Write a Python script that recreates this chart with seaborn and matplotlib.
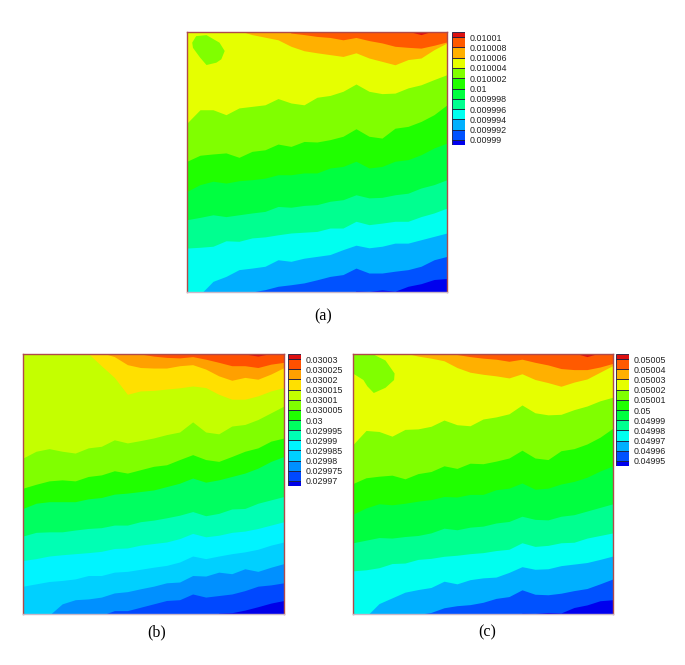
import matplotlib
matplotlib.use("Agg")
import matplotlib.pyplot as plt
import seaborn as sns

sns.set_style("white")
plt.rcParams["font.family"] = ["Liberation Sans", "DejaVu Sans"]

W, H = 685, 665

# Horizontal position in percent of panel width
xs = [0, 5, 10, 15, 20, 25, 30, 35, 40, 45, 50, 55, 60, 65, 70, 75, 80, 85, 90, 95, 100]

# Panel (a): contour band edges, height in percent of the panel, low to high
a_e1 = [-3, -3, -3, -3, -3, -3, -3, -3, -3, -3, -3, -3, -3, 0.4, 0.2, 0.8, 0.3, 2.2, 3.2, 4.8, 5.2]
a_e2 = [-3, -3, -3, -3, -2, 0, 0.9, 2.2, 2.8, 3.5, 4.7, 6.0, 6.7, 9.2, 7.3, 7.3, 8.0, 8.6, 9.9, 12.4, 13.7]
a_e3 = [-3, -1, 4.1, 6, 8.6, 9.2, 9.9, 12.4, 11.8, 13, 13.7, 14.4, 16.3, 18, 17, 17.6, 18.8, 18.8, 20.1, 21.4, 22.7]
a_e4 = [16.9, 17.2, 17.6, 19.7, 19.5, 20.8, 21.2, 22, 22.7, 23, 23.3, 24.6, 24.6, 27.2, 25.9, 26.5, 27.2, 27.2, 29, 30.4, 32.3]
a_e5 = [27.8, 28.7, 29.7, 29, 29.7, 30.4, 31, 32.9, 32.6, 33.3, 33.6, 34.9, 35.5, 37.4, 36.2, 36.4, 37.4, 38, 40, 41.3, 43.2]
a_e6 = [38.7, 41.3, 42.6, 41.9, 42.8, 43.2, 43.8, 45.1, 45.1, 45.8, 45.8, 47.7, 48.3, 50.3, 47.7, 48.3, 50.3, 50.9, 52.8, 55.4, 57.3]
a_e7 = [50.3, 52.6, 53.1, 53.5, 51.8, 54.1, 54.7, 56.9, 56, 57.9, 57.7, 58.6, 59.9, 62.8, 59.9, 59.2, 63, 63.7, 65.6, 68.2, 72]
a_e8 = [65, 70.1, 70.1, 68.2, 70.8, 71.4, 72, 74.4, 72.7, 72, 74.9, 75.6, 77.2, 80, 77.2, 76.3, 76.5, 78.5, 79.7, 81.7, 83.6]
a_e9 = [103, 103, 103, 103, 100.5, 99, 98, 97, 94.5, 92.8, 92, 91.3, 90.6, 92, 90, 88.7, 87.4, 89.4, 90, 93.2, 95.8]
a_e10 = [103, 103, 103, 103, 103, 103, 103, 103, 99.6, 99, 98.3, 97.9, 97, 97.9, 96.7, 95.8, 94.5, 94.1, 93.8, 94.9, 96.2]
a_e11 = [103, 103, 103, 103, 103, 103, 103, 103, 103, 103, 103, 103, 103, 103, 103, 103, 100.1, 100.3, 99, 100.5, 103]
a_island_x = [2, 3.5, 7.5, 12.5, 14.5, 13.2, 11.3, 7.5, 5, 2.3]
a_island_y = [95.9, 98.4, 98.8, 95.9, 92.7, 89.5, 88.2, 87.3, 90.2, 93.9]
a_labels = ["0.01001", "0.010008", "0.010006", "0.010004", "0.010002", "0.01",
            "0.009998", "0.009996", "0.009994", "0.009992", "0.00999"]

# Panel (b)
b_e1 = [-3, -3, -3, -3, -3, -3, -3, -3, -3, -3, -3, -3, -3, -3, -3, 0.3, 0.5, 1.5, 2.8, 4.2, 5.2]
b_e2 = [-3, -3, -3, -3, -3, -3, -0.5, 1.3, 1.3, 2.6, 3.9, 5.2, 5.5, 7.7, 6.5, 7.1, 7.7, 9, 10.7, 11.2, 12]
b_e3 = [-3, -3, -0.5, 3.9, 5.5, 5.8, 6.5, 8.1, 8.6, 9.7, 10.7, 12, 12.3, 14.8, 14.6, 16.1, 15.5, 17.4, 16.4, 18, 19.4]
b_e4 = [10.7, 11.6, 12.5, 12.9, 13.5, 14.8, 14.8, 16.1, 16.4, 17.2, 18, 18.7, 20, 22.3, 21.3, 22.3, 23.2, 23.9, 24.9, 26.5, 27.7]
b_e5 = [20.6, 21.3, 22.3, 22.8, 23.2, 23.6, 24.1, 25.2, 25.4, 26.5, 27.1, 27.7, 29, 31, 29.7, 30.3, 31.4, 31.9, 32.9, 34.2, 35.5]
b_e6 = [30, 31.4, 31.6, 31.6, 32.3, 32.9, 33.2, 34.2, 34.2, 35.5, 36.1, 37, 38, 39.4, 37.8, 38.7, 40.4, 40.6, 42.6, 43.9, 45.2]
b_e7 = [40.6, 42.6, 43.2, 43.2, 43.2, 44.3, 44.8, 46.1, 46.5, 47.1, 47.7, 49, 50.3, 52.3, 50.7, 51.6, 52.9, 54.2, 56.1, 58.7, 60.6]
b_e8 = [48.4, 49.9, 51.2, 51.6, 51.2, 52.9, 53.5, 55.1, 54.2, 55.5, 56.8, 57.4, 59.4, 61.3, 59.4, 58.7, 60.6, 62.6, 63.9, 66.5, 67.7]
b_e9 = [60, 62.6, 63.6, 62.6, 61.9, 63.9, 64.5, 67, 65.8, 66.7, 67.7, 69, 70, 73.9, 70, 69.3, 72.3, 72.9, 74.8, 77.4, 80]
b_e10 = [103, 103, 103, 103, 103, 100.2, 95.5, 91, 84.5, 85.8, 86, 86.5, 87, 87.7, 87.1, 84.5, 82.6, 82.6, 83.9, 85.8, 87.1]
b_e11 = [103, 103, 103, 103, 103, 103, 100.5, 99, 95.9, 94.8, 94.6, 94.6, 95.5, 95.9, 94.2, 91.6, 89.9, 91, 90.3, 92.3, 94.8]
b_e12 = [103, 103, 103, 103, 103, 103, 103, 103, 103, 100, 99.2, 98.7, 98.5, 99, 98, 96.8, 95.5, 95.5, 94.8, 96.1, 96.8]
b_e13 = [103, 103, 103, 103, 103, 103, 103, 103, 103, 103, 103, 103, 103, 103, 103, 103, 100.3, 100, 99.2, 100.2, 103]
b_labels = ["0.03003", "0.030025", "0.03002", "0.030015", "0.03001", "0.030005", "0.03",
            "0.029995", "0.02999", "0.029985", "0.02998", "0.029975", "0.02997"]

# Panel (c)
c_e1 = [-3, -3, -3, -3, -3, -3, -3, -3, -3, -3, -3, -3, -3, 0.3, 0.2, 0.6, 0.4, 2.5, 3.5, 5.1, 5.5]
c_e2 = [-3, -3, -3, -3, -3, -0.2, 0.6, 2.4, 3.2, 3.6, 4.5, 6, 6.7, 9.3, 7.6, 7.4, 8, 9, 9.8, 11.6, 13.5]
c_e3 = [-3, -1, 4, 6.2, 8.4, 9.4, 10.2, 12.6, 11.6, 13.2, 13.9, 14.2, 16, 18.2, 17.2, 17.4, 18.6, 19.2, 19.8, 21, 22.3]
c_e4 = [16.6, 17, 17.8, 19.4, 19.6, 21, 21.4, 22.2, 22.6, 23.2, 23.6, 24.4, 24.9, 27.4, 26, 26.4, 27.4, 27.6, 29.2, 30.2, 31.2]
c_e5 = [27.4, 28.4, 29.4, 29.2, 29.8, 30.2, 31.2, 33, 32.4, 33.4, 33.8, 35, 35.6, 37.6, 36.4, 36.2, 37.6, 38.2, 39.6, 41, 42.4]
c_e6 = [38.4, 40.8, 42.4, 42, 42.6, 43.4, 44, 45.2, 45, 46, 46, 47.8, 48.4, 50.4, 48, 48.4, 50, 51, 52.6, 55, 57]
c_e7 = [50.2, 52.4, 53, 53.4, 52, 54, 54.8, 57, 56, 58, 57.8, 58.8, 60, 63, 60, 59.4, 62.8, 63.6, 65.4, 68, 71.5]
c_e8 = [65.2, 70.6, 70.2, 68.4, 71, 71.2, 72.2, 74.6, 72.8, 72.4, 75, 75.8, 77, 80.4, 77.4, 76.6, 76.8, 78.6, 80, 82, 83.4]
c_e9 = [103, 103, 103, 103, 100.4, 99.2, 98.4, 97.4, 94.8, 93, 92.2, 91.6, 90.8, 92.4, 90.2, 89, 87.6, 89.2, 90.4, 93, 95.6]
c_e10 = [103, 103, 103, 103, 103, 103, 103, 103, 99.8, 99, 98.4, 98, 97.2, 98, 96.8, 95.8, 94.4, 94, 94, 95, 96.4]
c_e11 = [103, 103, 103, 103, 103, 103, 103, 103, 103, 103, 103, 103, 103, 103, 103, 103, 100.1, 100.4, 99, 100.4, 103]
c_island_x = [0, 7.5, 12.5, 16, 15.8, 12.5, 8, 5.5, 4, 0]
c_island_y = [100, 100, 97.5, 92.5, 90, 87, 85, 87.6, 90, 92.5]
c_labels = ["0.05005", "0.05004", "0.05003", "0.05002", "0.05001", "0.05",
            "0.04999", "0.04998", "0.04997", "0.04996", "0.04995"]

# Band colours, lowest to highest
colors_11 = ["#0000ee", "#0052ff", "#00b0ff", "#00fff0", "#00ff90", "#00ff40",
             "#20ff00", "#80ff00", "#e6ff00", "#ffb000", "#ff5a00", "#dd1010"]
colors_13 = ["#0000e8", "#0048ff", "#0090ff", "#00d0ff", "#00f4ff", "#00ffb4", "#00ff60",
             "#20ff00", "#80ff00", "#c4ff00", "#ffe000", "#ffa000", "#ff5000", "#dd1010"]


def px_axes(x0, y0, x1, y1):
    return fig.add_axes([x0 / W, 1 - y1 / H, (x1 - x0) / W, (y1 - y0) / H])


def draw_field(box, edges, palette, island_x=None, island_y=None):
    ax = px_axes(*box)
    ax.set_facecolor(palette[0])
    for edge, col in zip(edges, palette[1:]):
        ax.fill_between(xs, edge, [104] * len(xs), color=col, lw=0)
    if island_x is not None:
        ax.fill(island_x, island_y, color="#80ff00", lw=0)
    ax.set_xlim(0, 100)
    ax.set_ylim(0, 100)
    ax.set_xticks([])
    ax.set_yticks([])
    for spine in ax.spines.values():
        spine.set_color("#b04a4a")
        spine.set_linewidth(1)
    ax.spines["bottom"].set_color("#c9b8c8")


def draw_key(box, labels, palette):
    ax = px_axes(*box)
    n = len(labels)
    low = [-0.5] + list(range(n))
    high = list(range(n)) + [n - 0.5]
    for lo, hi, col in zip(low, high, palette):
        ax.barh((lo + hi) / 2, 1, height=hi - lo, color=col, edgecolor="#1a1a40", linewidth=0.6)
    ax.set_xlim(0, 1)
    ax.set_ylim(-0.5, n - 0.5)
    ax.set_xticks([])
    ax.yaxis.tick_right()
    ax.set_yticks(range(n))
    ax.set_yticklabels(labels[::-1], fontsize=6.4, color="#222222")
    ax.tick_params(axis="y", length=0, pad=3)
    sns.despine(ax=ax, left=True, right=True, top=True, bottom=True)


fig = plt.figure(figsize=(W / 100, H / 100), dpi=100)

draw_field((187, 32, 447, 292),
           [a_e1, a_e2, a_e3, a_e4, a_e5, a_e6, a_e7, a_e8, a_e9, a_e10, a_e11],
           colors_11, a_island_x, a_island_y)
draw_key((452, 32, 465, 145), a_labels, colors_11)

draw_field((23, 354, 284, 614),
           [b_e1, b_e2, b_e3, b_e4, b_e5, b_e6, b_e7, b_e8, b_e9, b_e10, b_e11, b_e12, b_e13],
           colors_13)
draw_key((288, 354, 301, 486), b_labels, colors_13)

draw_field((353, 354, 613, 614),
           [c_e1, c_e2, c_e3, c_e4, c_e5, c_e6, c_e7, c_e8, c_e9, c_e10, c_e11],
           colors_11, c_island_x, c_island_y)
draw_key((616, 354, 629, 466), c_labels, colors_11)

for text, x, y in [("(a)", 323, 316), ("(b)", 157, 632), ("(c)", 487, 632)]:
    fig.text(x / W, 1 - y / H, text, family="Liberation Serif", fontsize=11.5,
             ha="center", va="center", color="black")

fig.savefig("out.png", dpi=100)
